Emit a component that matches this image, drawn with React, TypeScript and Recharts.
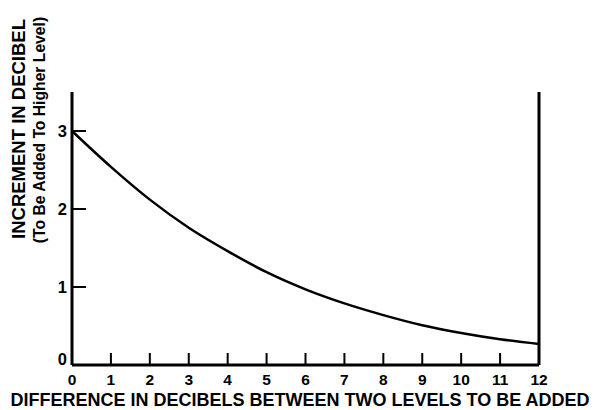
import React from 'react'
import { Line, LineChart, XAxis, YAxis } from 'recharts'

// difference between the two levels (dB)
const levelDifference = [0, 1, 2, 3, 4, 5, 6, 7, 8, 9, 10, 11, 12]
// increment to add to the higher level (dB)
const increment = [3.0, 2.54, 2.12, 1.76, 1.46, 1.19, 0.97, 0.79, 0.64, 0.51, 0.41, 0.33, 0.27]

const xTicks = [0, 1, 2, 3, 4, 5, 6, 7, 8, 9, 10, 11, 12]
const yTicks = [0, 1, 2, 3]

const xTitle = 'DIFFERENCE IN DECIBELS BETWEEN TWO LEVELS TO BE ADDED'
const yTitle = 'INCREMENT IN DECIBEL'
const ySubtitle = '(To Be Added To Higher Level)'

const font = "'Liberation Sans', Arial, sans-serif"

const data = levelDifference.map((d, i) => ({ d, inc: increment[i] }))

const LeftTick = (props: any) => {
  const { x, y, payload } = props
  const v = payload.value
  return (
    <g>
      {v !== 0 && <line x1={x} y1={y} x2={x + 14} y2={y} stroke="#000" strokeWidth={2} />}
      <text
        x={x - 5}
        y={y}
        dy={v === 0 ? 0 : 6}
        textAnchor="end"
        fontFamily={font}
        fontWeight="bold"
        fontSize={16.5}
        fill="#000"
      >
        {v}
      </text>
    </g>
  )
}

const RightTick = (props: any) => {
  const { x, y, payload } = props
  if (payload.value === 0) return <g />
  return <line x1={x} y1={y} x2={x - 16} y2={y} stroke="#000" strokeWidth={2} />
}

const BottomTick = (props: any) => {
  const { x, y, payload } = props
  const v = payload.value
  return (
    <g>
      {v !== 0 && v !== 12 && (
        <line x1={x} y1={y} x2={x} y2={y - 12} stroke="#000" strokeWidth={2} />
      )}
      <text
        x={x}
        y={y + 20}
        textAnchor="middle"
        fontFamily={font}
        fontWeight="bold"
        fontSize={15.5}
        fill="#000"
      >
        {v}
      </text>
    </g>
  )
}

export default function App() {
  return (
    <div style={{ position: 'absolute', left: 0, top: 0, background: '#fff' }}>
      <LineChart
        width={595}
        height={410}
        data={data}
        margin={{ top: 92, right: 0, bottom: 0, left: 0 }}
      >
        <XAxis
          dataKey="d"
          type="number"
          domain={[0, 12]}
          ticks={xTicks}
          height={45}
          tickLine={false}
          tickSize={0}
          tickMargin={0}
          tick={BottomTick}
          axisLine={{ stroke: '#000', strokeWidth: 3 }}
          interval={0}
        />
        <YAxis
          yAxisId="left"
          type="number"
          domain={[0, 3.5]}
          ticks={yTicks}
          width={72}
          tickLine={false}
          tickSize={0}
          tickMargin={0}
          tick={LeftTick}
          axisLine={{ stroke: '#000', strokeWidth: 3 }}
          interval={0}
        />
        <YAxis
          yAxisId="right"
          orientation="right"
          type="number"
          domain={[0, 3.5]}
          ticks={yTicks}
          width={56}
          tickLine={false}
          tickSize={0}
          tickMargin={0}
          tick={RightTick}
          axisLine={{ stroke: '#000', strokeWidth: 3 }}
          interval={0}
        />
        <Line
          yAxisId="left"
          dataKey="inc"
          type="monotone"
          stroke="#000"
          strokeWidth={2.5}
          dot={false}
          isAnimationActive={false}
        />
        <text
          x={300}
          y={406}
          textAnchor="middle"
          fontFamily={font}
          fontWeight="bold"
          fontSize={18}
          fill="#000"
        >
          {xTitle}
        </text>
        <text
          transform="translate(25 129) rotate(-90)"
          textAnchor="middle"
          fontFamily={font}
          fontWeight="bold"
          fontSize={18.5}
          fill="#000"
        >
          {yTitle}
        </text>
        <text
          transform="translate(45 130) rotate(-90)"
          textAnchor="middle"
          fontFamily={font}
          fontWeight="bold"
          fontSize={15.7}
          fill="#000"
        >
          {ySubtitle}
        </text>
      </LineChart>
    </div>
  )
}
